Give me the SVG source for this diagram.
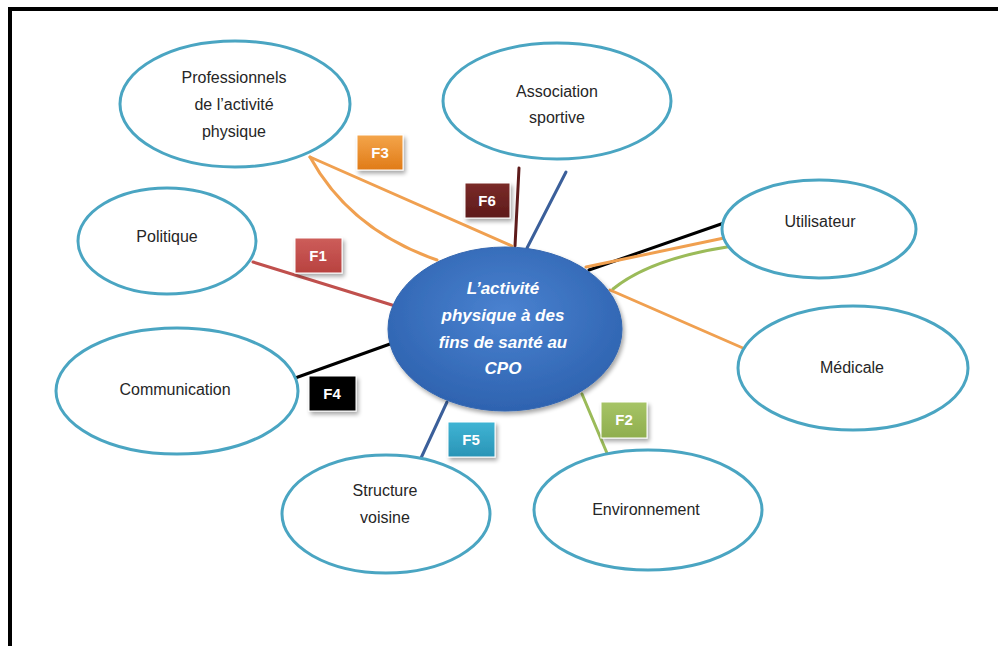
<svg xmlns="http://www.w3.org/2000/svg" width="998" height="646" viewBox="0 0 998 646">
<defs>
<radialGradient id="gc" cx="0.5" cy="0.4" r="0.6">
<stop offset="0" stop-color="#4a82d0"/>
<stop offset="1" stop-color="#2e63b0"/>
</radialGradient>
<linearGradient id="g3" x1="0" y1="0" x2="0" y2="1"><stop offset="0" stop-color="#f4a54b"/><stop offset="1" stop-color="#e07b17"/></linearGradient>
<linearGradient id="g1" x1="0" y1="0" x2="0" y2="1"><stop offset="0" stop-color="#cd5d5a"/><stop offset="1" stop-color="#b8423f"/></linearGradient>
<linearGradient id="g6" x1="0" y1="0" x2="0" y2="1"><stop offset="0" stop-color="#7a2a28"/><stop offset="1" stop-color="#5e1b1b"/></linearGradient>
<linearGradient id="g5" x1="0" y1="0" x2="0" y2="1"><stop offset="0" stop-color="#3fb4d4"/><stop offset="1" stop-color="#2a94b6"/></linearGradient>
<linearGradient id="g2" x1="0" y1="0" x2="0" y2="1"><stop offset="0" stop-color="#a6c466"/><stop offset="1" stop-color="#8fae4e"/></linearGradient>
<filter id="sh" x="-20%" y="-20%" width="150%" height="150%">
<feGaussianBlur in="SourceAlpha" stdDeviation="2"/>
<feOffset dx="2" dy="3" result="o"/>
<feComponentTransfer><feFuncA type="linear" slope="0.35"/></feComponentTransfer>
<feMerge><feMergeNode/><feMergeNode in="SourceGraphic"/></feMerge>
</filter>
</defs>
<style>
.n{fill:#fff;stroke:#4aa5c2;stroke-width:3}
.t{font-family:"Liberation Sans",Arial,sans-serif;font-size:16px;fill:#262626;text-anchor:middle}
.c{font-family:"Liberation Sans",Arial,sans-serif;font-size:17px;font-weight:bold;font-style:italic;fill:#fff;text-anchor:middle}
.l{fill:none;stroke-width:3;stroke-linecap:round}
.b{stroke:#fff;stroke-width:1;filter:url(#sh)}
.bt{font-family:"Liberation Sans",Arial,sans-serif;font-size:15px;font-weight:bold;fill:#fff;text-anchor:middle}
</style>
<rect x="0" y="0" width="998" height="646" fill="#fff"/>
<path d="M10,650 V9 H1000" fill="none" stroke="#000" stroke-width="4"/>

<g id="connectors">
<line class="l" x1="253" y1="262" x2="392" y2="305" stroke="#c0504d"/>
<line class="l" x1="284" y1="382" x2="390" y2="344" stroke="#000"/>
<line class="l" x1="421" y1="458" x2="447" y2="402" stroke="#3b5f9a"/>
<line class="l" x1="582" y1="394" x2="612" y2="465" stroke="#9bbb59"/>
<line class="l" x1="519" y1="168" x2="515" y2="246" stroke="#5e1b1b"/>
<line class="l" x1="566" y1="172" x2="527" y2="248" stroke="#3b5f9a"/>
<line class="l" x1="310" y1="157" x2="512" y2="246" stroke="#f0a050"/>
<path class="l" d="M310,157 Q350,230 437,260" stroke="#f0a050"/>
<line class="l" x1="589" y1="270" x2="724" y2="223" stroke="#000"/>
<line class="l" x1="586" y1="267" x2="724" y2="238" stroke="#f0a050"/>
<path class="l" d="M613,289 Q650,259 727,247" stroke="#9bbb59"/>
<line class="l" x1="610" y1="290" x2="752" y2="352" stroke="#f0a050"/>
</g>

<g id="node-professionnels">
<ellipse class="n" cx="235" cy="104" rx="115" ry="63"/>
<text class="t" x="234" y="83">Professionnels</text>
<text class="t" x="234" y="110">de l’activité</text>
<text class="t" x="234" y="137">physique</text>
</g>
<g id="node-association">
<ellipse class="n" cx="557" cy="101" rx="114" ry="58"/>
<text class="t" x="557" y="97">Association</text>
<text class="t" x="557" y="123">sportive</text>
</g>
<g id="node-politique">
<ellipse class="n" cx="167" cy="241" rx="89" ry="53"/>
<text class="t" x="167" y="242">Politique</text>
</g>
<g id="node-utilisateur">
<ellipse class="n" cx="819" cy="229" rx="97" ry="49"/>
<text class="t" x="820" y="227">Utilisateur</text>
</g>
<g id="node-medicale">
<ellipse class="n" cx="853" cy="368" rx="115" ry="62"/>
<text class="t" x="852" y="373">Médicale</text>
</g>
<g id="node-communication">
<ellipse class="n" cx="177" cy="391" rx="121" ry="63"/>
<text class="t" x="175" y="395">Communication</text>
</g>
<g id="node-structure">
<ellipse class="n" cx="386" cy="514" rx="104" ry="59"/>
<text class="t" x="385" y="496">Structure</text>
<text class="t" x="385" y="523">voisine</text>
</g>
<g id="node-environnement">
<ellipse class="n" cx="648" cy="510" rx="114" ry="60"/>
<text class="t" x="646" y="515">Environnement</text>
</g>
<g id="node-center">
<ellipse cx="505" cy="329" rx="117" ry="82" fill="url(#gc)" stroke="#3567b0" stroke-width="1" filter="url(#sh)"/>
<text class="c" x="503" y="294">L’activité</text>
<text class="c" x="503" y="321">physique à des</text>
<text class="c" x="503" y="348">fins de santé au</text>
<text class="c" x="503" y="374">CPO</text>
</g>

<g id="labels">
<g id="F3"><rect class="b" x="357" y="135" width="46" height="35" fill="url(#g3)"/><text class="bt" x="380" y="158">F3</text></g>
<g id="F6"><rect class="b" x="465" y="183" width="45" height="35" fill="url(#g6)"/><text class="bt" x="487" y="206">F6</text></g>
<g id="F1"><rect class="b" x="295" y="238" width="47" height="35" fill="url(#g1)"/><text class="bt" x="318" y="261">F1</text></g>
<g id="F4"><rect class="b" x="309" y="376" width="47" height="35" fill="#000"/><text class="bt" x="332" y="399">F4</text></g>
<g id="F5"><rect class="b" x="448" y="422" width="47" height="35" fill="url(#g5)"/><text class="bt" x="471" y="445">F5</text></g>
<g id="F2"><rect class="b" x="601" y="402" width="46" height="36" fill="url(#g2)"/><text class="bt" x="624" y="425">F2</text></g>
</g>
</svg>
